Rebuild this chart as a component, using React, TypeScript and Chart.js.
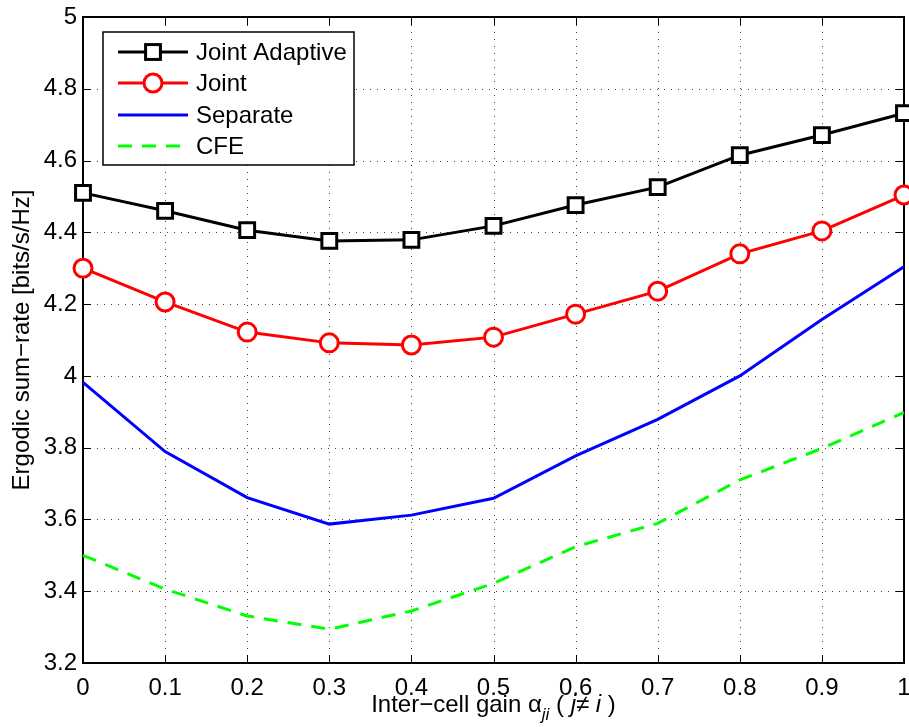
import { useEffect, useRef } from 'react';
import { Chart, registerables } from 'chart.js';

Chart.register(...registerables);

// ---- data ----
const xValues = [0, 0.1, 0.2, 0.3, 0.4, 0.5, 0.6, 0.7, 0.8, 0.9, 1];
const jointAdaptive = [4.51, 4.46, 4.406, 4.376, 4.379, 4.418, 4.476, 4.526, 4.615, 4.671, 4.732];
const joint = [4.3, 4.206, 4.122, 4.092, 4.086, 4.108, 4.172, 4.236, 4.34, 4.404, 4.504];
const separate = [3.982, 3.789, 3.661, 3.587, 3.612, 3.659, 3.777, 3.879, 4.0, 4.157, 4.304];
const cfe = [3.5, 3.406, 3.331, 3.294, 3.345, 3.422, 3.524, 3.589, 3.71, 3.798, 3.898];
const seriesNames = ['Joint Adaptive', 'Joint', 'Separate', 'CFE'];
const xTicks = [0, 0.1, 0.2, 0.3, 0.4, 0.5, 0.6, 0.7, 0.8, 0.9, 1];
const yTicks = [3.2, 3.4, 3.6, 3.8, 4, 4.2, 4.4, 4.6, 4.8, 5];
const yTitle = 'Ergodic sum\u2212rate [bits/s/Hz]';

const FONT = '"Liberation Sans", Arial, Helvetica, sans-serif';
const TICK_SIZE = 24;
const TITLE_SIZE = 24;
const LEGEND_SIZE = 24;

const colors = ['#000000', '#ff0000', '#0000ff', '#00ff00'];
const styles = [
  { marker: 'rect', radius: 10.5, dash: [] as number[] },
  { marker: 'circle', radius: 9, dash: [] as number[] },
  { marker: false, radius: 0, dash: [] as number[] },
  { marker: false, radius: 0, dash: [14, 10] },
];
const seriesValues = [jointAdaptive, joint, separate, cfe];

const fmt = (v: number) => String(Number(v.toFixed(2)));

const axesPlugin = {
  id: 'matlabAxes',
  beforeDatasetsDraw(chart: any) {
    const { ctx, chartArea } = chart;
    const { left, right, top, bottom } = chartArea;
    const xs = chart.scales.x;
    const ys = chart.scales.y;
    ctx.save();
    // dotted grid
    ctx.strokeStyle = '#404040';
    ctx.lineWidth = 1;
    ctx.setLineDash([1, 6]);
    xTicks.forEach((v) => {
      const px = Math.round(xs.getPixelForValue(v)) + 0.5;
      ctx.beginPath();
      ctx.moveTo(px, bottom);
      ctx.lineTo(px, top);
      ctx.stroke();
    });
    yTicks.forEach((v) => {
      const py = Math.round(ys.getPixelForValue(v)) + 0.5;
      ctx.beginPath();
      ctx.moveTo(left, py);
      ctx.lineTo(right, py);
      ctx.stroke();
    });
    ctx.setLineDash([]);
    // inward ticks on all sides
    ctx.strokeStyle = '#000';
    ctx.lineWidth = 1;
    const tl = 8;
    xTicks.forEach((v) => {
      const px = Math.round(xs.getPixelForValue(v)) + 0.5;
      ctx.beginPath();
      ctx.moveTo(px, bottom);
      ctx.lineTo(px, bottom - tl);
      ctx.moveTo(px, top);
      ctx.lineTo(px, top + tl);
      ctx.stroke();
    });
    yTicks.forEach((v) => {
      const py = Math.round(ys.getPixelForValue(v)) + 0.5;
      ctx.beginPath();
      ctx.moveTo(left, py);
      ctx.lineTo(left + tl, py);
      ctx.moveTo(right, py);
      ctx.lineTo(right - tl, py);
      ctx.stroke();
    });
    // frame
    ctx.lineWidth = 2;
    ctx.strokeRect(left, top, right - left, bottom - top);
    ctx.restore();
  },
  afterDraw(chart: any) {
    const { ctx, chartArea } = chart;
    const { left, right, top, bottom } = chartArea;
    ctx.save();
    ctx.fillStyle = '#000';
    // y title
    ctx.save();
    ctx.translate(29, (top + bottom) / 2);
    ctx.rotate(-Math.PI / 2);
    ctx.font = `${TITLE_SIZE}px ${FONT}`;
    ctx.textAlign = 'center';
    ctx.textBaseline = 'alphabetic';
    ctx.fillText(yTitle, 0, 0);
    ctx.restore();

    // x title with subscript
    const normal = `${TITLE_SIZE}px ${FONT}`;
    const italic = `italic ${TITLE_SIZE}px ${FONT}`;
    const subFont = `italic ${Math.round(TITLE_SIZE * 0.72)}px ${FONT}`;
    const segs: { t: string; f: string; dy: number }[] = [
      { t: 'Inter\u2212cell gain \u03b1', f: normal, dy: 0 },
      { t: 'ji', f: subFont, dy: 8 },
      { t: ' ( ', f: normal, dy: 0 },
      { t: 'j', f: italic, dy: 0 },
      { t: '\u2260 ', f: normal, dy: 0 },
      { t: 'i', f: italic, dy: 0 },
      { t: ' )', f: normal, dy: 0 },
    ];
    let total = 0;
    segs.forEach((s) => {
      ctx.font = s.f;
      total += ctx.measureText(s.t).width;
    });
    let cx = (left + right) / 2 - total / 2;
    const baseY = 712;
    ctx.textAlign = 'left';
    ctx.textBaseline = 'alphabetic';
    segs.forEach((s) => {
      ctx.font = s.f;
      ctx.fillText(s.t, cx, baseY + s.dy);
      cx += ctx.measureText(s.t).width;
    });

    // legend
    const bx = 103;
    const by = 32;
    const bw = 251;
    const bh = 133;
    ctx.fillStyle = '#fff';
    ctx.fillRect(bx, by, bw, bh);
    ctx.strokeStyle = '#000';
    ctx.lineWidth = 1.5;
    ctx.strokeRect(bx, by, bw, bh);
    const rowY = [20, 51, 83, 114];
    seriesNames.forEach((name, i) => {
      const y = by + rowY[i];
      const st = styles[i];
      ctx.strokeStyle = colors[i];
      ctx.lineWidth = 3;
      ctx.setLineDash(st.dash);
      ctx.beginPath();
      ctx.moveTo(bx + 15, y);
      ctx.lineTo(bx + 85, y);
      ctx.stroke();
      ctx.setLineDash([]);
      if (st.marker === 'rect') {
        const s = st.radius * Math.SQRT1_2;
        ctx.fillStyle = '#fff';
        ctx.fillRect(bx + 50 - s, y - s, 2 * s, 2 * s);
        ctx.lineWidth = 3;
        ctx.strokeRect(bx + 50 - s, y - s, 2 * s, 2 * s);
      } else if (st.marker === 'circle') {
        ctx.fillStyle = '#fff';
        ctx.beginPath();
        ctx.arc(bx + 50, y, st.radius, 0, Math.PI * 2);
        ctx.fill();
        ctx.lineWidth = 3;
        ctx.stroke();
      }
      ctx.fillStyle = '#000';
      ctx.font = `${LEGEND_SIZE}px ${FONT}`;
      ctx.textBaseline = 'middle';
      ctx.fillText(name, bx + 93, y + 1);
    });
    ctx.restore();
  },
};

export default function App() {
  const ref = useRef<HTMLCanvasElement | null>(null);
  useEffect(() => {
    if (!ref.current) return;
    const datasets = seriesNames.map((name, i) => ({
      label: name,
      data: xValues.map((x, k) => ({ x, y: seriesValues[i][k] })),
      borderColor: colors[i],
      backgroundColor: '#ffffff',
      borderWidth: 3,
      borderDash: styles[i].dash,
      pointStyle: (styles[i].marker || 'circle') as any,
      pointRadius: styles[i].radius,
      pointHoverRadius: styles[i].radius,
      pointBorderWidth: 3,
      pointBorderColor: colors[i],
      pointBackgroundColor: '#ffffff',
      tension: 0,
      fill: false,
      clip: false as any,
    }));
    const zeroPad = (s: any) => {
      s.paddingLeft = 0;
      s.paddingRight = 0;
      s.paddingTop = 0;
      s.paddingBottom = 0;
    };
    const chart = new Chart(ref.current, {
      type: 'line',
      data: { datasets: datasets.reverse() },
      options: {
        animation: false,
        responsive: false,
        devicePixelRatio: 1,
        layout: { padding: { top: 17, right: 5, left: 0, bottom: 0 }, autoPadding: false } as any,
        plugins: { legend: { display: false }, tooltip: { enabled: false } },
        events: [],
        scales: {
          x: {
            type: 'linear',
            min: 0,
            max: 1,
            afterBuildTicks: (s: any) => {
              s.ticks = xTicks.map((v) => ({ value: v }));
            },
            afterFit: (s: any) => {
              s.height = 64;
              zeroPad(s);
            },
            grid: { display: false, drawTicks: false },
            border: { display: false },
            ticks: {
              autoSkip: false,
              maxRotation: 0,
              padding: 11,
              color: '#000',
              font: { family: FONT, size: TICK_SIZE },
              callback: (v: any) => fmt(Number(v)),
            },
          },
          y: {
            type: 'linear',
            min: 3.2,
            max: 5,
            afterBuildTicks: (s: any) => {
              s.ticks = yTicks.map((v) => ({ value: v }));
            },
            afterFit: (s: any) => {
              s.width = 83;
              zeroPad(s);
            },
            grid: { display: false, drawTicks: false },
            border: { display: false },
            ticks: {
              autoSkip: false,
              padding: 6,
              color: '#000',
              font: { family: FONT, size: TICK_SIZE },
              callback: (v: any) => fmt(Number(v)),
            },
          },
        },
      },
      plugins: [axesPlugin],
    });
    return () => chart.destroy();
  }, []);
  return (
    <div style={{ position: 'absolute', left: 0, top: 0, width: 909, height: 727, background: '#fff' }}>
      <canvas ref={ref} width={909} height={727} style={{ display: 'block' }} />
    </div>
  );
}
